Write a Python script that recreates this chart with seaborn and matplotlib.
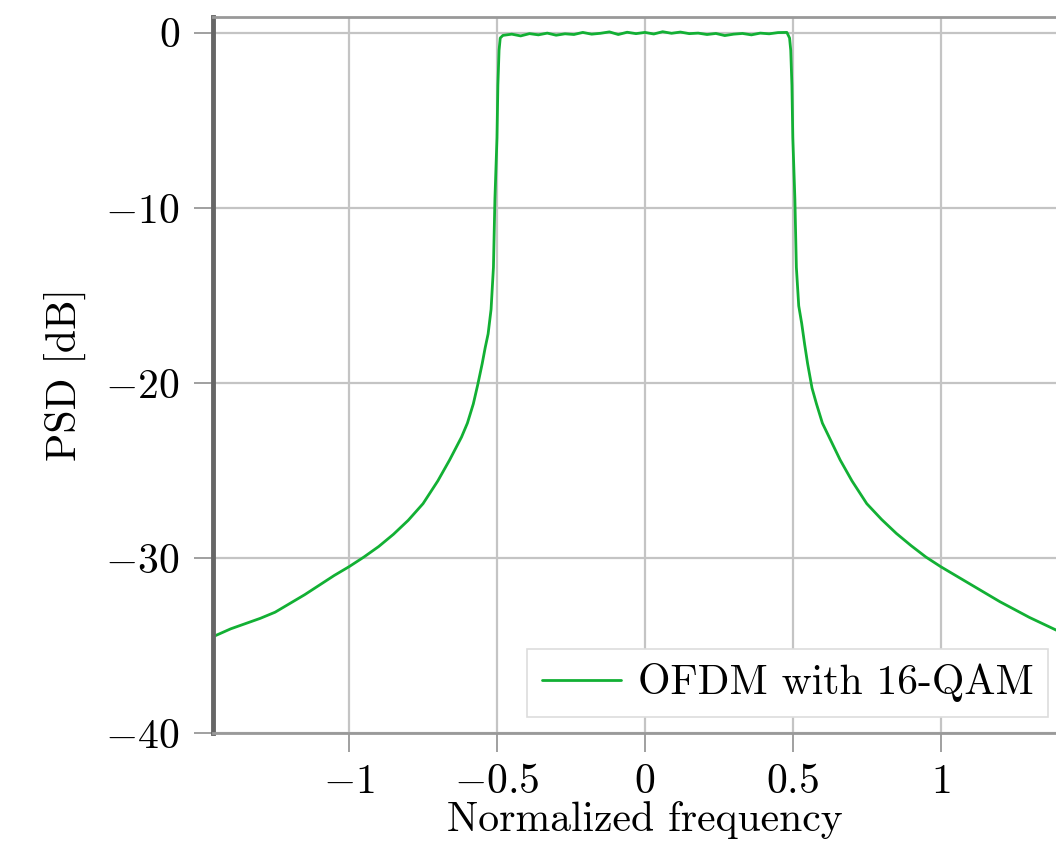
import numpy as np
import pandas as pd
import seaborn as sns
import matplotlib.pyplot as plt

# PSD of OFDM signal (normalized frequency, dB)
freq_left = [-1.46, -1.40, -1.35, -1.30, -1.25, -1.20, -1.15, -1.10, -1.05, -1.00,
             -0.95, -0.90, -0.85, -0.80, -0.75, -0.70, -0.66, -0.62, -0.60, -0.58,
             -0.565, -0.55, -0.54, -0.53, -0.52, -0.512, -0.507,
             -0.500, -0.497, -0.493, -0.489]
psd_left = [-34.5, -34.05, -33.75, -33.45, -33.1, -32.6, -32.1, -31.55, -31.0, -30.5,
            -29.95, -29.35, -28.65, -27.85, -26.9, -25.6, -24.4, -23.1, -22.3, -21.2,
            -20.1, -18.9, -18.0, -17.2, -15.8, -13.4, -9.5,
            -6.0, -3.0, -1.0, -0.3]

freq_top = [-0.48, -0.45, -0.42, -0.39, -0.36, -0.33, -0.30, -0.27, -0.24, -0.21,
            -0.18, -0.15, -0.12, -0.09, -0.06, -0.03, 0.0, 0.03, 0.06, 0.09,
            0.12, 0.15, 0.18, 0.21, 0.24, 0.27, 0.30, 0.33, 0.36, 0.39,
            0.42, 0.45, 0.48]
psd_top = [-0.15, -0.08, -0.18, -0.05, -0.12, -0.02, -0.14, -0.06, -0.10, 0.02,
           -0.08, -0.03, 0.05, -0.10, 0.03, -0.05, 0.02, -0.07, 0.06, -0.03,
           0.04, -0.05, -0.02, -0.10, -0.04, -0.16, -0.08, -0.04, -0.12, -0.02,
           -0.06, 0.01, 0.02]

freq_right = [0.489, 0.493, 0.497, 0.500, 0.507, 0.512, 0.52, 0.53, 0.54, 0.55,
              0.565, 0.58, 0.60, 0.62, 0.66, 0.70, 0.75, 0.80, 0.85, 0.90,
              0.95, 1.00, 1.05, 1.10, 1.15, 1.20, 1.25, 1.30, 1.35, 1.40, 1.46]
psd_right = [-0.3, -1.0, -3.0, -6.0, -9.5, -13.4, -15.6, -16.6, -17.8, -18.9,
             -20.3, -21.2, -22.3, -23.0, -24.4, -25.6, -26.9, -27.8, -28.6, -29.3,
             -29.95, -30.5, -31.0, -31.5, -32.0, -32.5, -32.95, -33.4, -33.8, -34.2, -34.6]

xticks = [-1, -0.5, 0, 0.5, 1]
xtick_labels = ['$-1$', '$-0.5$', '$0$', '$0.5$', '$1$']
yticks = [0, -10, -20, -30, -40]
ytick_labels = ['$0$', '$-10$', '$-20$', '$-30$', '$-40$']

df = pd.DataFrame({'freq': freq_left + freq_top + freq_right,
                   'psd': psd_left + psd_top + psd_right})

sns.set_theme(style='whitegrid')
plt.rcParams['font.family'] = 'serif'
plt.rcParams['font.serif'] = ['cmr10']
plt.rcParams['mathtext.fontset'] = 'cm'
plt.rcParams['axes.unicode_minus'] = False
plt.rcParams['text.color'] = 'black'
plt.rcParams['axes.labelcolor'] = 'black'
plt.rcParams['xtick.labelcolor'] = 'black'
plt.rcParams['ytick.labelcolor'] = 'black'

fig = plt.figure(figsize=(10.56, 8.59), dpi=100)
ax = fig.add_axes([0.2017, 0.1467, 0.818, 0.8335])

sns.lineplot(data=df, x='freq', y='psd', ax=ax, color='#12b034', lw=2,
             label='OFDM with 16-QAM', sort=False)

ax.set_xlim(-1.46, 1.46)
ax.set_ylim(-40, 0.9)
ax.set_xticks(xticks)
ax.set_xticklabels(xtick_labels)
ax.set_yticks(yticks)
ax.set_yticklabels(ytick_labels)

ax.grid(True, color='#c4c4c4', lw=1.6)
ax.tick_params(axis='both', length=14, width=1.3, color='#999999',
               labelsize=30, pad=8, direction='out',
               bottom=True, left=True, labelcolor='black')
ax.tick_params(axis='y', pad=10)

for side in ['top', 'bottom']:
    ax.spines[side].set_color('#999999')
    ax.spines[side].set_linewidth(2)
ax.spines['left'].set_color('#666666')
ax.spines['left'].set_linewidth(3.5)
ax.spines['right'].set_visible(False)

ax.set_xlabel('Normalized frequency', fontsize=30, labelpad=0, color='black')
ax.set_ylabel('PSD [dB]', fontsize=30, labelpad=14, color='black')

leg = ax.legend(loc='lower right', bbox_to_anchor=(1048 / 1056, 1 - 717 / 859),
                bbox_transform=fig.transFigure, borderaxespad=0,
                fancybox=False, framealpha=1, edgecolor='#dddddd',
                fontsize=30, handlelength=1.9, handletextpad=0.4,
                borderpad=0.35)
leg.get_frame().set_linewidth(1.2)

fig.savefig('out.png', dpi=100)
